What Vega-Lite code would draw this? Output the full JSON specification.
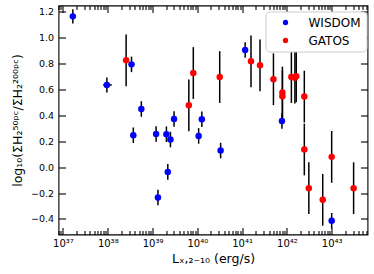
{
  "$schema": "https://vega.github.io/schema/vega-lite/v6.json",
  "width": 309,
  "height": 229,
  "autosize": {"type": "none"},
  "padding": {"left": 58.5, "top": 5.5, "right": 6.5, "bottom": 39.5},
  "config": {
    "font": "DejaVu Sans",
    "view": {"stroke": "black", "strokeWidth": 1.1},
    "axis": {"grid": false, "domain": false, "tickColor": "black", "tickWidth": 1.1, "labelColor": "black", "titleColor": "black", "labelFont": "DejaVu Sans", "titleFont": "DejaVu Sans", "titleFontWeight": "normal", "labelFontSize": 9.5, "titleFontSize": 12.5}
  },
  "data": {"values": [
    {"g": "WISDOM", "L": 1.66e37, "v": 1.166, "e": 0.055},
    {"g": "WISDOM", "L": 9.55e37, "v": 0.636, "e": 0.058, "xlo": 7.9e37, "xhi": 1.23e38},
    {"g": "WISDOM", "L": 3.39e38, "v": 0.795, "e": 0.06},
    {"g": "WISDOM", "L": 3.72e38, "v": 0.247, "e": 0.06},
    {"g": "WISDOM", "L": 5.62e38, "v": 0.45, "e": 0.06},
    {"g": "WISDOM", "L": 1.2e39, "v": 0.257, "e": 0.06},
    {"g": "WISDOM", "L": 1.32e39, "v": -0.234, "e": 0.06},
    {"g": "WISDOM", "L": 2.04e39, "v": 0.255, "e": 0.06},
    {"g": "WISDOM", "L": 2.19e39, "v": -0.036, "e": 0.06},
    {"g": "WISDOM", "L": 2.51e39, "v": 0.214, "e": 0.06},
    {"g": "WISDOM", "L": 3.02e39, "v": 0.373, "e": 0.06},
    {"g": "WISDOM", "L": 1.07e40, "v": 0.242, "e": 0.06},
    {"g": "WISDOM", "L": 1.26e40, "v": 0.371, "e": 0.06},
    {"g": "WISDOM", "L": 3.31e40, "v": 0.129, "e": 0.06},
    {"g": "WISDOM", "L": 1.17e41, "v": 0.906, "e": 0.06},
    {"g": "WISDOM", "L": 7.76e41, "v": 0.358, "e": 0.06},
    {"g": "WISDOM", "L": 1.0e43, "v": -0.414, "e": 0.06},
    {"g": "GATOS", "L": 2.57e38, "v": 0.826, "e": 0.2},
    {"g": "GATOS", "L": 6.46e39, "v": 0.479, "e": 0.2},
    {"g": "GATOS", "L": 8.13e39, "v": 0.728, "e": 0.2},
    {"g": "GATOS", "L": 3.16e40, "v": 0.697, "e": 0.2},
    {"g": "GATOS", "L": 1.58e41, "v": 0.819, "e": 0.2},
    {"g": "GATOS", "L": 2.51e41, "v": 0.788, "e": 0.2},
    {"g": "GATOS", "L": 5.01e41, "v": 0.68, "e": 0.2},
    {"g": "GATOS", "L": 7.94e41, "v": 0.577, "e": 0.2},
    {"g": "GATOS", "L": 7.94e41, "v": 0.548, "e": 0.2},
    {"g": "GATOS", "L": 1.26e42, "v": 0.697, "e": 0.2},
    {"g": "GATOS", "L": 1.51e42, "v": 0.692, "e": 0.2},
    {"g": "GATOS", "L": 1.62e42, "v": 0.703, "e": 0.2},
    {"g": "GATOS", "L": 2.45e42, "v": 0.546, "e": 0.2},
    {"g": "GATOS", "L": 2.45e42, "v": 0.137, "e": 0.2},
    {"g": "GATOS", "L": 3.09e42, "v": -0.162, "e": 0.2},
    {"g": "GATOS", "L": 6.31e42, "v": -0.252, "e": 0.2},
    {"g": "GATOS", "L": 1.0e43, "v": 0.08, "e": 0.2},
    {"g": "GATOS", "L": 3.09e43, "v": -0.162, "e": 0.2}
  ]},
  "layer": [
    {
      "mark": {"type": "errorbar", "color": "black", "thickness": 1.5},
      "encoding": {
        "x": {"field": "L", "type": "quantitative", "scale": {"type": "log", "domain": [7.94e36, 6.31e43], "nice": false},
          "axis": {"orient": "bottom", "title": "Lₓ,₂₋₁₀ (erg/s)", "values": [1e37, 1e38, 1e39, 1e40, 1e41, 1e42, 1e43], "tickSize": -7, "labelPadding": 11, "titlePadding": 4, "labelFontSize": 10,
            "labelExpr": "'10' + ['⁰','¹','²','³','⁴','⁵','⁶','⁷','⁸','⁹'][floor(round(log(datum.value)/LN10)/10)] + ['⁰','¹','²','³','⁴','⁵','⁶','⁷','⁸','⁹'][round(log(datum.value)/LN10)%10]"}},
        "y": {"field": "v", "type": "quantitative", "scale": {"domain": [-0.52, 1.25], "nice": false, "zero": false},
          "axis": {"orient": "left", "title": "log₁₀(ΣH₂⁵⁰ᵖᶜ/ΣH₂²⁰⁰ᵖᶜ)", "values": [-0.4, -0.2, 0, 0.2, 0.4, 0.6, 0.8, 1.0, 1.2], "format": ".1f", "tickSize": -7, "labelPadding": 12, "titlePadding": 6}},
        "yError": {"field": "e"}
      }
    },
    {
      "transform": [{"filter": "isValid(datum.xlo)"}],
      "mark": {"type": "rule", "color": "black", "strokeWidth": 1.5},
      "encoding": {
        "x": {"field": "xlo", "type": "quantitative", "scale": {"type": "log"}, "axis": null},
        "x2": {"field": "xhi"},
        "y": {"field": "v", "type": "quantitative", "axis": null}
      }
    },
    {
      "mark": {"type": "circle", "size": 42, "opacity": 1},
      "encoding": {
        "x": {"field": "L", "type": "quantitative", "scale": {"type": "log"},
          "axis": {"orient": "bottom", "title": null, "labels": false, "tickSize": -4,
            "values": [8e36, 9e36, 2e37, 3e37, 4e37, 5e37, 6e37, 7e37, 8e37, 9e37, 2e38, 3e38, 4e38, 5e38, 6e38, 7e38, 8e38, 9e38, 2e39, 3e39, 4e39, 5e39, 6e39, 7e39, 8e39, 9e39, 2e40, 3e40, 4e40, 5e40, 6e40, 7e40, 8e40, 9e40, 2e41, 3e41, 4e41, 5e41, 6e41, 7e41, 8e41, 9e41, 2e42, 3e42, 4e42, 5e42, 6e42, 7e42, 8e42, 9e42, 2e43, 3e43, 4e43, 5e43, 6e43]}},
        "y": {"field": "v", "type": "quantitative",
          "axis": {"orient": "right", "title": null, "labels": false, "tickSize": -7, "values": [-0.4, -0.2, 0, 0.2, 0.4, 0.6, 0.8, 1.0, 1.2]}},
        "color": {"field": "g", "type": "nominal", "scale": {"domain": ["WISDOM", "GATOS"], "range": ["#0000ff", "#ff0000"]},
          "legend": {"title": null, "orient": "none", "legendX": 207, "legendY": 6, "fillColor": "white", "strokeColor": "#cccccc", "cornerRadius": 4, "padding": 5, "symbolOffset": 9, "labelOffset": 17, "labelFontSize": 12, "labelColor": "black", "symbolType": "circle", "symbolSize": 28, "symbolStrokeWidth": 0, "rowPadding": 6}}
      }
    },
    {
      "mark": {"type": "circle", "opacity": 0},
      "encoding": {
        "x": {"field": "L", "type": "quantitative", "scale": {"type": "log"},
          "axis": {"orient": "top", "title": null, "labels": false, "tickSize": -7, "values": [1e37, 1e38, 1e39, 1e40, 1e41, 1e42, 1e43]}},
        "y": {"field": "v", "type": "quantitative", "axis": null}
      }
    },
    {
      "mark": {"type": "circle", "opacity": 0},
      "encoding": {
        "x": {"field": "L", "type": "quantitative", "scale": {"type": "log"},
          "axis": {"orient": "top", "title": null, "labels": false, "tickSize": -4,
            "values": [8e36, 9e36, 2e37, 3e37, 4e37, 5e37, 6e37, 7e37, 8e37, 9e37, 2e38, 3e38, 4e38, 5e38, 6e38, 7e38, 8e38, 9e38, 2e39, 3e39, 4e39, 5e39, 6e39, 7e39, 8e39, 9e39, 2e40, 3e40, 4e40, 5e40, 6e40, 7e40, 8e40, 9e40, 2e41, 3e41, 4e41, 5e41, 6e41, 7e41, 8e41, 9e41, 2e42, 3e42, 4e42, 5e42, 6e42, 7e42, 8e42, 9e42, 2e43, 3e43, 4e43, 5e43, 6e43]}},
        "y": {"field": "v", "type": "quantitative", "axis": null}
      }
    }
  ],
  "resolve": {"axis": {"x": "independent", "y": "independent"}}
}
